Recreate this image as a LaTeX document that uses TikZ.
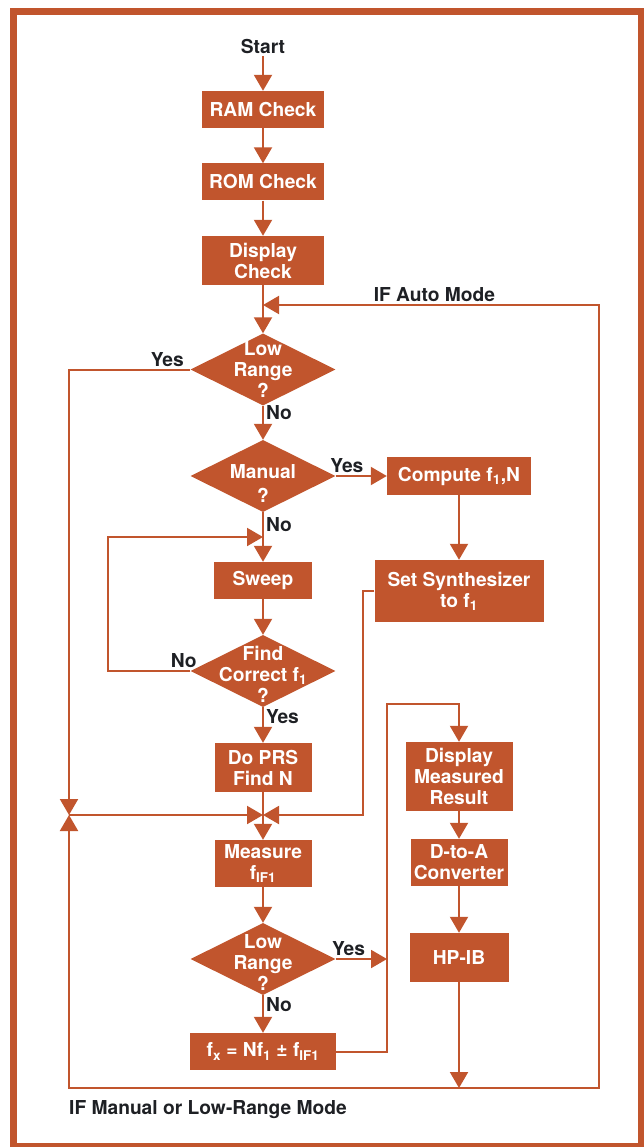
\documentclass[tikz,border=0pt]{standalone}
\usepackage{fontspec}
\setmainfont{TeX Gyre Heros}
\usetikzlibrary{arrows.meta, positioning, shapes.geometric}
\definecolor{hporange}{RGB}{193,85,45}
\definecolor{hpdark}{RGB}{30,32,36}

\begin{document}
\begin{tikzpicture}[x=1pt, y=-1pt, on grid, >={Triangle[width=18pt,length=16pt]},
    font=\fontsize{19.2}{21}\selectfont\bfseries,
    box/.style={rectangle, fill=hporange, text=white, align=center, inner sep=0pt, minimum height=37pt},
    decision/.style={diamond, fill=hporange, inner sep=0pt, minimum width=145pt, minimum height=72pt},
    dtext/.style={text=white, align=center, inner sep=0pt},
    lbl/.style={text=hpdark, inner sep=2pt},
    flow/.style={draw=hporange, line width=2pt},
    frame/.style={draw=hporange, line width=7pt}]
  \useasboundingbox (0,0) rectangle (644,1147);
  \draw[frame] (13,12) rectangle (641,1146);

% main column
  \node[lbl] (start) at (263,47) {Start};
  \node[box, minimum width=122pt, below=62.5pt of start] (ram) {RAM Check};
  \node[box, minimum width=122pt, below=72.5pt of ram] (rom) {ROM Check};
  \node[box, minimum width=122pt, minimum height=49pt, below=78.5pt of rom] (disp) {Display\\Check};
  \node[decision, below=109pt of disp, label={[dtext]center:{Low\\Range\\?}}] (lr1) {};
  \node[decision, below=106.5pt of lr1, label={[dtext,yshift=-7pt]center:{Manual\\[3pt]?}}] (man) {};
  \node[box, minimum width=98pt, below=104.5pt of man] (sweep) {Sweep};
  \node[decision, below=90.5pt of sweep, label={[dtext,yshift=-3pt]center:{Find\\Correct f\textsubscript{1}\\?}}] (find) {};
  \node[box, minimum width=97pt, minimum height=49pt, below=96.5pt of find] (prs) {Do PRS\\Find N};
  \node[box, minimum width=97pt, minimum height=47pt, below=96pt of prs] (meas) {Measure\\f\textsubscript{IF1}};
  \node[decision, below=95.5pt of meas, label={[dtext,yshift=-3pt]center:{Low\\Range\\?}}] (lr2) {};
  \node[box, minimum width=146pt, below=92.5pt of lr2] (fx) {f\textsubscript{x} = Nf\textsubscript{1} ± f\textsubscript{IF1}};

% right column
  \node[box, minimum width=144pt, minimum height=38pt, right=196pt of man] (comp) {Compute f\textsubscript{1},N};
  \node[box, minimum width=169pt, minimum height=62pt, below=115pt of comp] (synth) {Set Synthesizer\\to f\textsubscript{1}};
  \node[box, minimum width=107pt, minimum height=69pt, below=185.5pt of synth] (dmr) {Display\\Measured\\Result};
  \node[box, minimum width=97pt, minimum height=47pt, below=86pt of dmr] (dta) {D-to-A\\Converter};
  \node[box, minimum width=99pt, minimum height=49pt, below=95pt of dta] (hpib) {HP-IB};

  \node[lbl, anchor=base west] (manmode) at (67,1114.5) {IF Manual or Low-Range Mode};

% junctions and corners
  \coordinate[below=44.5pt of disp] (auto);
  \coordinate[below=47.5pt of prs] (jc);
  \coordinate[left=194pt of jc] (jl);
  \coordinate[below=130.5pt of hpib] (bot);
  \coordinate[right=140pt of bot] (br);
  \coordinate (tr) at (br |- auto);
  \coordinate (bl) at (jl |- bot);
  \coordinate (loop) at (108,537);
  \coordinate (sr) at (363,815);
  \coordinate (yhi) at (387,704);

% the links
  \draw[flow,->] (start) -- (ram);
  \draw[flow,->] (ram) -- (rom);
  \draw[flow,->] (rom) -- (disp);
  \draw[flow,->] (disp) -- (lr1);
  \draw[flow,->] (lr1) -- node[lbl,right,pos=0.21] (no1) {No} (man);
  \draw[flow,->] (lr1.west) -- node[lbl,above,pos=0.19] (yes1) {Yes} (lr1.west -| jl) -- (jl);
  \draw[flow,->] (man) -- node[lbl,above,pos=0.22] (yes2) {Yes} (comp);
  \draw[flow,->] (comp) -- (synth);
  \draw[flow,->] (man) -- node[lbl,right,pos=0.24] (no2) {No} (sweep);
  \draw[flow,->] (sweep) -- (find);
  \draw[flow,->] (find.west) -- node[lbl,above,pos=0.08] (no3) {No} (find.west -| loop) -- (loop) -- (loop -| sweep);
  \draw[flow,->] (find) -- node[lbl,right,pos=0.25] (yes3) {Yes} (prs);
  \draw[flow] (prs) -- (jc);
  \draw[flow,->] (jl) -- (jc);
  \draw[flow,->] (synth.west) -| (sr) -- (jc);
  \draw[flow,->] (jc) -- (meas);
  \draw[flow,->] (meas) -- (lr2);
  \draw[flow,->] (lr2.east) -- node[lbl,above,pos=0.25] (yes4) {Yes} (lr2.east -| yhi);
  \draw[flow,->] (lr2) -- node[lbl,right,pos=0.24] (no4) {No} (fx);
  \draw[flow,->] (fx.east) -| (yhi) -| (dmr.north);
  \draw[flow,->] (dmr) -- (dta);
  \draw[flow,->] (dta) -- (hpib);
  \draw[flow,->] (hpib) -- (bot);
  \draw[flow,->] (bot) -- (br) -- (tr) -- node[lbl,above,pos=0.49] (automode) {IF Auto Mode} (auto);
  \draw[flow,->] (bot) -- (bl) -- (jl);
\end{tikzpicture}
\end{document}
